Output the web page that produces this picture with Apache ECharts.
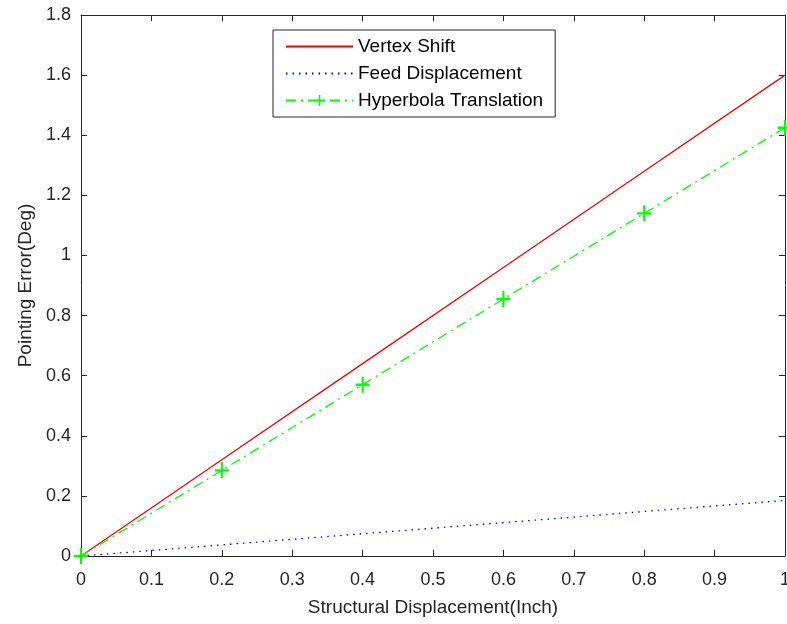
<!DOCTYPE html>
<html><head><meta charset="utf-8">
<script src="https://cdn.jsdelivr.net/npm/echarts@6/dist/echarts.min.js"></script>
<style>html,body{margin:0;padding:0;background:#fff}#c{width:787px;height:624px}</style>
</head><body><div id="c"></div>
<script>
var xValues = [0, 0.2, 0.4, 0.6, 0.8, 1.0];
var vertexShift = [0, 0.32, 0.64, 0.96, 1.28, 1.60];
var feedDisplacement = [0, 0.037, 0.074, 0.111, 0.148, 0.185];
var hyperbolaTranslation = [0, 0.285, 0.57, 0.855, 1.14, 1.425];
var seriesNames = ['Vertex Shift', 'Feed Displacement', 'Hyperbola Translation'];
var xTitle = 'Structural Displacement(Inch)';
var yTitle = 'Pointing Error(Deg)';

function pairs(ys){ return xValues.map(function(x,i){return [x, ys[i]];}); }
var ink = '#262626';
var font = 'Liberation Sans, Arial, sans-serif';
var plus = 'path://M-1.5,-10L1.5,-10L1.5,-1.5L10,-1.5L10,1.5L1.5,1.5L1.5,10L-1.5,10L-1.5,1.5L-10,1.5L-10,-1.5L-1.5,-1.5Z';

function axisCommon(extra){
  var base = {
    type: 'value',
    axisLine: {show: true, onZero: false, lineStyle: {color: ink, width: 1}},
    axisTick: {show: true, inside: true, length: 6, lineStyle: {color: ink}},
    splitLine: {show: false}
  };
  for (var k in extra) base[k] = extra[k];
  return base;
}

var chart = echarts.init(document.getElementById('c'), null, {renderer:'canvas'});
chart.setOption({
  backgroundColor: '#fff',
  animation: false,
  grid: {left: 81, right: 2, top: 15, bottom: 68, containLabel: false, outerBoundsMode: 'none'},
  legend: {
    orient: 'vertical', left: 273, top: 30,
    data: [
      {name: seriesNames[0], itemStyle: {opacity: 0}},
      {name: seriesNames[1], itemStyle: {opacity: 0}},
      {name: seriesNames[2]}
    ],
    borderColor: ink, borderWidth: 1, backgroundColor: '#fff',
    padding: [7, 12, 7, 12],
    itemWidth: 67, itemHeight: 14, itemGap: 8,
    textStyle: {fontFamily: font, fontSize: 19, color: '#000'}
  },
  xAxis: [
    axisCommon({min: 0, max: 1, interval: 0.1, position: 'bottom',
      axisLabel: {color: ink, fontFamily: font, fontSize: 18, margin: 15},
      name: xTitle, nameLocation: 'middle', nameGap: 42,
      nameTextStyle: {color: ink, fontFamily: font, fontSize: 19}}),
    axisCommon({min: 0, max: 1, interval: 0.1, position: 'top', axisLabel: {show: false}})
  ],
  yAxis: [
    axisCommon({min: 0, max: 1.8, interval: 0.2, position: 'left',
      axisLabel: {color: ink, fontFamily: font, fontSize: 18, margin: 10},
      name: yTitle, nameLocation: 'middle', nameGap: 46, nameRotate: 90,
      nameTextStyle: {color: ink, fontFamily: font, fontSize: 19}}),
    axisCommon({min: 0, max: 1.8, interval: 0.2, position: 'right', axisLabel: {show: false}})
  ],
  series: [{
    name: seriesNames[0], type: 'line', data: pairs(vertexShift),
    symbol: 'none', color: '#ff0000',
    lineStyle: {color: '#ff0000', width: 1.3, type: 'solid'}
  },{
    name: seriesNames[1], type: 'line', data: pairs(feedDisplacement),
    symbol: 'none', color: '#0000ff',
    lineStyle: {color: '#0000ff', width: 1.3, type: [1.5, 5]}
  },{
    name: seriesNames[2], type: 'line', data: pairs(hyperbolaTranslation),
    symbol: plus, symbolSize: [14, 16], showAllSymbol: true, color: '#00ff00',
    itemStyle: {color: '#00ff00'},
    lineStyle: {color: '#00ff00', width: 1.3, type: [10, 5, 2, 5]},
    z: 3
  }]
});
</script></body></html>
